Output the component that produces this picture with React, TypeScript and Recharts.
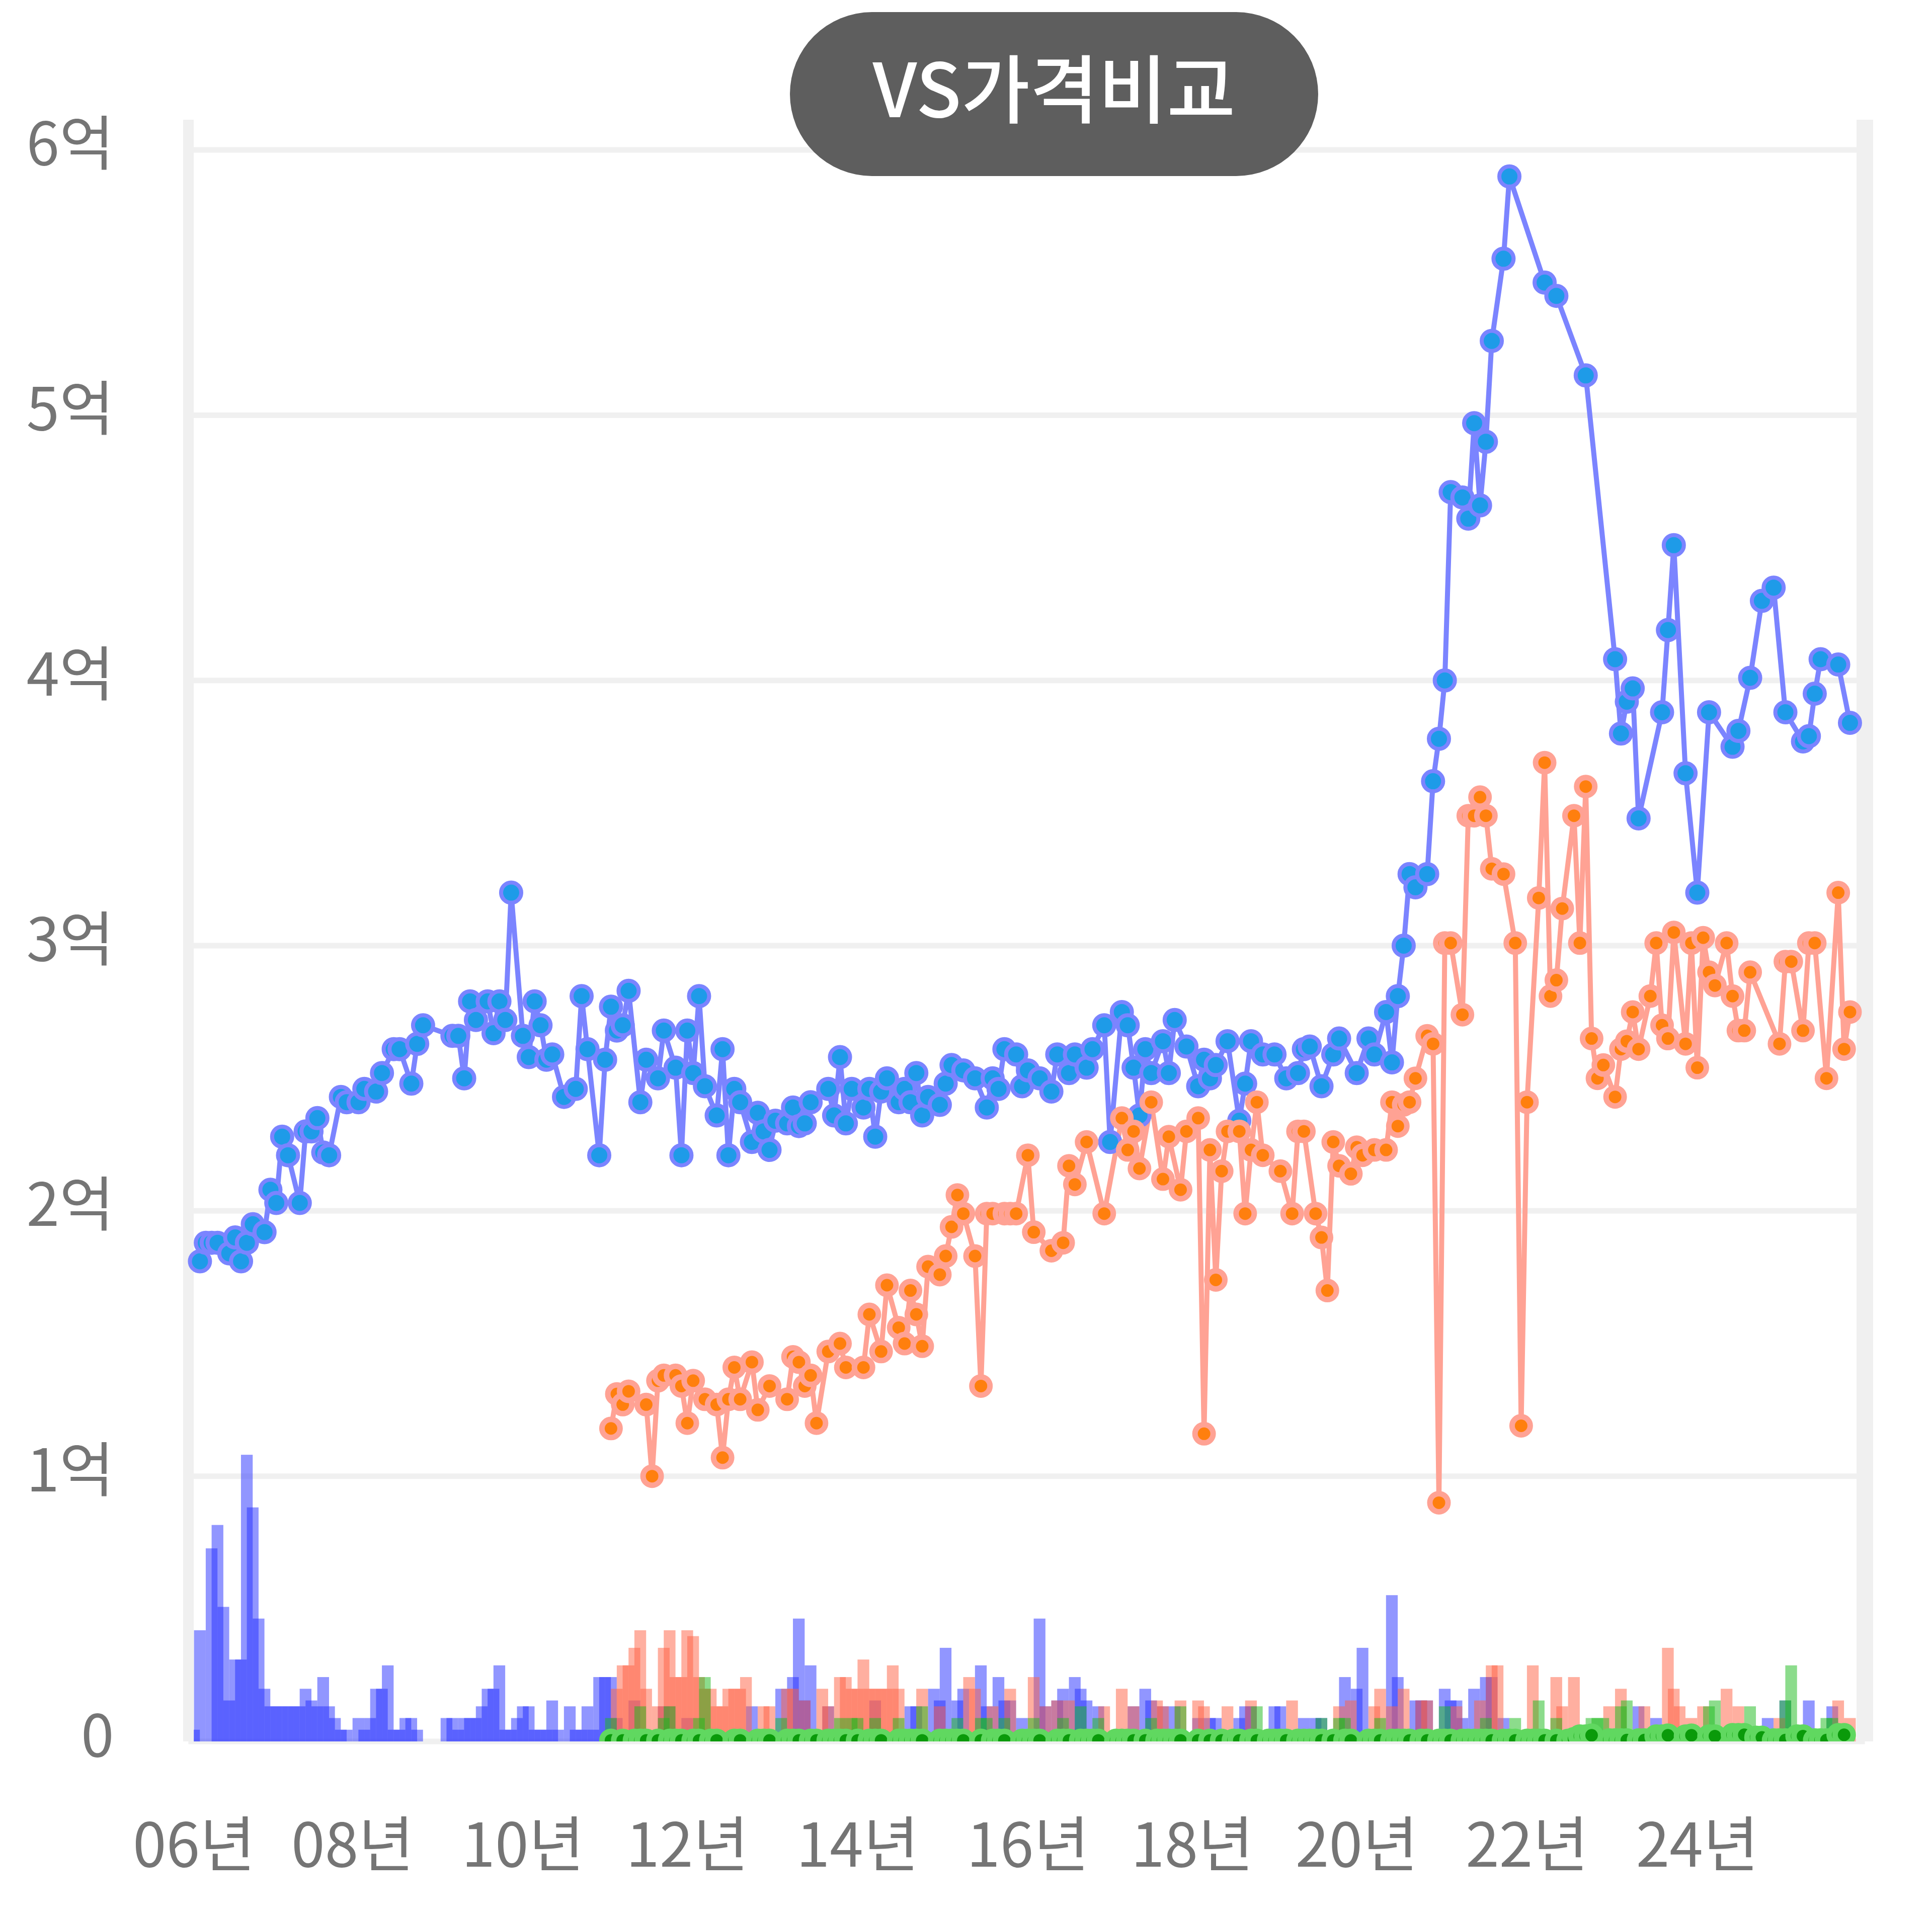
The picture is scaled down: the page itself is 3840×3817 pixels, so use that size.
import { Bar, CartesianGrid, ComposedChart, Line, XAxis, YAxis } from "recharts";

const FONT = '"Noto Sans CJK KR", "Noto Sans", sans-serif';
const POINT_COUNT = 283;

/* tick labels */
const yearTicks = [0, 27, 56, 84, 113, 142, 170, 198, 227, 256];
const yearLabels = ["06년", "08년", "10년", "12년", "14년", "16년", "18년", "20년", "22년", "24년"];
const priceTicks = [0, 1, 2, 3, 4, 5, 6];

/* [point index, 억] */
const salePrice = [
  [1,1.81],[2,1.88],[3,1.88],[4,1.88],[6,1.84],[7,1.90],[8,1.81],[9,1.88],[10,1.95],[12,1.92],[13,2.08],[14,2.03],[15,2.28],[16,2.21],[18,2.03],[19,2.30],[20,2.30],[21,2.35],[22,2.22],[23,2.21],[25,2.43],[26,2.41],[28,2.41],[29,2.46],[31,2.45],[32,2.52],[34,2.61],[35,2.61],[37,2.48],[38,2.63],[39,2.70],[44,2.66],[45,2.66],[46,2.50],[47,2.79],[48,2.72],[50,2.79],[51,2.67],[52,2.79],[53,2.72],[54,3.20],[56,2.66],[57,2.58],[58,2.79],[59,2.70],[60,2.57],[61,2.59],[63,2.43],[65,2.46],[66,2.81],[67,2.61],[69,2.21],[70,2.57],[71,2.77],[72,2.68],[73,2.70],[74,2.83],[76,2.41],[77,2.57],[79,2.50],[80,2.68],[82,2.54],[83,2.21],[84,2.68],[85,2.52],[86,2.81],[87,2.47],[89,2.36],[90,2.61],[91,2.21],[92,2.46],[93,2.41],[95,2.26],[96,2.37],[97,2.30],[98,2.23],[99,2.34],[101,2.33],[102,2.39],[103,2.32],[104,2.33],[105,2.41],[108,2.46],[109,2.36],[110,2.58],[111,2.33],[112,2.46],[114,2.39],[115,2.46],[116,2.28],[117,2.45],[118,2.50],[120,2.41],[121,2.46],[122,2.41],[123,2.52],[124,2.36],[125,2.43],[127,2.40],[128,2.48],[129,2.55],[131,2.53],[133,2.50],[135,2.39],[136,2.50],[137,2.46],[138,2.61],[140,2.59],[141,2.47],[142,2.53],[144,2.50],[146,2.45],[147,2.59],[149,2.52],[150,2.59],[152,2.54],[153,2.61],[155,2.70],[156,2.26],[158,2.75],[159,2.70],[160,2.54],[161,2.36],[162,2.61],[163,2.52],[165,2.64],[166,2.52],[167,2.72],[169,2.62],[171,2.47],[172,2.57],[173,2.50],[174,2.55],[176,2.64],[178,2.34],[179,2.48],[180,2.64],[182,2.59],[184,2.59],[186,2.50],[188,2.52],[189,2.61],[190,2.62],[192,2.47],[194,2.59],[195,2.65],[198,2.52],[200,2.65],[201,2.59],[203,2.75],[204,2.56],[205,2.81],[206,3.00],[207,3.27],[208,3.22],[210,3.27],[211,3.62],[212,3.78],[213,4.00],[214,4.71],[216,4.69],[217,4.61],[218,4.97],[219,4.66],[220,4.90],[221,5.28],[223,5.59],[224,5.90],[230,5.50],[232,5.45],[237,5.15],[242,4.08],[243,3.80],[244,3.92],[245,3.97],[246,3.48],[250,3.88],[251,4.19],[252,4.51],[254,3.65],[256,3.20],[258,3.88],[262,3.75],[263,3.81],[265,4.01],[267,4.30],[269,4.35],[271,3.88],[274,3.77],[275,3.79],[276,3.95],[277,4.08],[280,4.06],[282,3.84],
];

const leasePrice = [
  [71,1.18],[72,1.31],[73,1.27],[74,1.32],[77,1.27],[78,1.00],[79,1.36],[80,1.38],[82,1.38],[83,1.34],[84,1.20],[85,1.36],[87,1.29],[89,1.27],[90,1.07],[91,1.29],[92,1.41],[93,1.29],[95,1.43],[96,1.25],[98,1.34],[101,1.29],[102,1.45],[103,1.43],[104,1.34],[105,1.38],[106,1.20],[108,1.47],[110,1.50],[111,1.41],[114,1.41],[115,1.61],[117,1.47],[118,1.72],[120,1.56],[121,1.50],[122,1.70],[123,1.61],[124,1.49],[125,1.79],[127,1.76],[128,1.83],[129,1.94],[130,2.06],[131,1.99],[133,1.83],[134,1.34],[135,1.99],[136,1.99],[138,1.99],[139,1.99],[140,1.99],[142,2.21],[143,1.92],[146,1.85],[148,1.88],[149,2.17],[150,2.10],[152,2.26],[155,1.99],[158,2.35],[159,2.23],[160,2.30],[161,2.16],[163,2.41],[165,2.12],[166,2.28],[168,2.08],[169,2.30],[171,2.35],[172,1.16],[173,2.23],[174,1.74],[175,2.15],[176,2.30],[178,2.30],[179,1.99],[180,2.23],[181,2.41],[182,2.21],[185,2.15],[187,1.99],[188,2.30],[189,2.30],[191,1.99],[192,1.90],[193,1.70],[194,2.26],[195,2.17],[197,2.14],[198,2.24],[199,2.21],[201,2.23],[203,2.23],[204,2.41],[205,2.32],[206,2.40],[207,2.41],[208,2.50],[210,2.66],[211,2.63],[212,0.90],[213,3.01],[214,3.01],[216,2.74],[217,3.49],[218,3.49],[219,3.56],[220,3.49],[221,3.29],[223,3.27],[225,3.01],[226,1.19],[227,2.41],[229,3.18],[230,3.69],[231,2.81],[232,2.87],[233,3.14],[235,3.49],[236,3.01],[237,3.60],[238,2.65],[239,2.50],[240,2.55],[242,2.43],[243,2.61],[244,2.64],[245,2.75],[246,2.61],[248,2.81],[249,3.01],[250,2.70],[251,2.65],[252,3.05],[254,2.63],[255,3.01],[256,2.54],[257,3.03],[258,2.90],[259,2.85],[261,3.01],[262,2.81],[263,2.68],[264,2.68],[265,2.90],[270,2.63],[271,2.94],[272,2.94],[274,2.68],[275,3.01],[276,3.01],[278,2.50],[280,3.20],[281,2.61],[282,2.75],
];

const rentPrice = [
  [71,0.004],[73,0.004],[75,0.004],[76,0.004],[77,0.004],[79,0.004],[81,0.004],[82,0.004],[83,0.004],[85,0.004],[86,0.004],[88,0.004],[89,0.004],[92,0.004],[93,0.004],[96,0.004],[97,0.004],[98,0.004],[101,0.004],[102,0.004],[103,0.004],[105,0.004],[106,0.004],[108,0.004],[109,0.004],[110,0.004],[111,0.004],[113,0.004],[115,0.004],[116,0.004],[117,0.004],[120,0.004],[121,0.004],[122,0.004],[123,0.004],[124,0.004],[127,0.004],[128,0.004],[129,0.004],[130,0.004],[131,0.004],[134,0.004],[136,0.004],[137,0.004],[138,0.004],[141,0.004],[142,0.004],[143,0.004],[144,0.004],[147,0.004],[148,0.004],[149,0.004],[151,0.004],[152,0.004],[153,0.004],[154,0.004],[157,0.004],[158,0.004],[159,0.004],[160,0.004],[162,0.004],[164,0.004],[165,0.004],[166,0.004],[167,0.004],[168,0.004],[171,0.004],[173,0.004],[175,0.004],[177,0.004],[178,0.004],[180,0.004],[181,0.004],[183,0.004],[184,0.004],[185,0.004],[186,0.004],[188,0.004],[189,0.004],[190,0.004],[191,0.004],[192,0.004],[194,0.004],[196,0.004],[197,0.004],[200,0.004],[201,0.004],[202,0.004],[204,0.004],[205,0.004],[206,0.004],[207,0.004],[209,0.004],[210,0.004],[212,0.004],[213,0.004],[214,0.004],[216,0.004],[217,0.004],[218,0.004],[219,0.004],[220,0.004],[221,0.004],[223,0.004],[224,0.004],[225,0.004],[227,0.004],[228,0.004],[229,0.004],[230,0.004],[232,0.004],[234,0.004],[235,0.01],[236,0.02],[237,0.02],[238,0.023],[241,0.005],[242,0.005],[243,0.005],[244,0.005],[246,0.005],[247,0.005],[249,0.02],[250,0.02],[251,0.023],[254,0.02],[255,0.023],[258,0.02],[259,0.02],[262,0.025],[263,0.025],[264,0.025],[266,0.015],[267,0.015],[269,0.005],[270,0.005],[271,0.005],[273,0.02],[274,0.02],[276,0.005],[277,0.005],[278,0.005],[280,0.025],[281,0.025],
];

/* [point index, 거래량] */
const saleVolume = [
  [0,2],[1,19],[3,33],[4,37],[5,23],[6,7],[7,14],[8,14],[9,49],[10,40],[11,21],[12,9],[13,6],[14,6],[15,6],[16,6],[17,6],[18,6],[19,9],[20,7],[21,6],[22,11],[23,6],[24,4],[25,2],[26,2],[28,4],[29,2],[30,4],[31,9],[32,9],[33,13],[34,2],[35,2],[36,4],[37,4],[38,2],[43,4],[44,4],[45,2],[46,4],[47,4],[48,4],[49,6],[50,9],[51,9],[52,13],[53,2],[54,2],[55,4],[56,6],[57,6],[58,2],[59,2],[60,2],[61,7],[62,2],[64,6],[65,2],[66,2],[67,6],[68,2],[69,11],[70,11],[71,11],[72,4],[75,7],[80,6],[81,6],[84,4],[95,6],[100,9],[102,11],[103,21],[104,7],[105,13],[108,6],[116,7],[122,6],[123,6],[126,9],[127,7],[128,16],[130,7],[131,9],[134,13],[135,6],[137,11],[138,7],[139,7],[141,4],[144,21],[145,6],[147,7],[148,9],[150,11],[151,9],[152,7],[154,6],[160,6],[162,9],[163,7],[165,6],[167,6],[171,4],[173,4],[174,4],[178,4],[179,6],[180,6],[184,6],[185,6],[189,4],[191,4],[192,4],[196,11],[198,9],[199,16],[204,25],[205,11],[208,7],[209,7],[210,7],[213,9],[214,7],[215,7],[216,4],[218,9],[220,11],[221,11],[223,4],[246,6],[249,4],[268,4],[271,7],[275,7],[279,6],
];

const leaseVolume = [
  [72,9],[73,13],[74,13],[75,16],[76,19],[77,9],[79,6],[80,16],[81,19],[82,11],[83,11],[84,19],[85,18],[86,11],[87,9],[88,9],[89,6],[90,6],[91,9],[92,9],[93,9],[94,11],[97,6],[98,6],[101,9],[102,9],[104,7],[107,9],[108,6],[110,11],[111,11],[112,9],[113,9],[114,14],[115,9],[116,9],[117,9],[118,9],[119,13],[120,9],[124,9],[127,6],[132,11],[133,9],[136,6],[139,9],[143,11],[145,6],[147,7],[149,7],[155,6],[158,9],[160,6],[164,7],[165,6],[168,7],[171,7],[172,6],[176,6],[180,7],[187,7],[195,6],[197,7],[201,6],[202,9],[204,6],[206,9],[209,7],[210,7],[215,6],[219,7],[221,13],[222,13],[227,2],[228,13],[232,11],[233,6],[235,11],[241,6],[243,9],[247,6],[251,16],[252,9],[253,6],[255,4],[257,6],[261,9],[263,6],[270,4],[280,7],[282,4],
];

const rentVolume = [
  [71,4],[76,6],[80,4],[81,6],[86,4],[87,11],[100,4],[110,4],[112,4],[113,4],[116,4],[120,4],[124,6],[130,4],[134,4],[135,4],[138,4],[143,4],[148,4],[151,6],[154,4],[163,4],[168,6],[181,6],[192,4],[195,4],[196,4],[202,4],[213,6],[220,4],[225,4],[229,7],[232,4],[238,4],[239,4],[240,4],[243,6],[244,7],[258,6],[259,7],[265,6],[271,7],[272,13],[278,4],[279,4],
];

const rows: Record<string, number>[] = Array.from({ length: POINT_COUNT }, (_, idx) => ({ idx }));
const addSeries = (key: string, pairs: number[][]) => {
  pairs.forEach(([i, v]) => {
    rows[i][key] = v;
  });
};
addSeries("sale", salePrice);
addSeries("lease", leasePrice);
addSeries("rent", rentPrice);
addSeries("saleVol", saleVolume);
addSeries("leaseVol", leaseVolume);
addSeries("rentVol", rentVolume);

const GRAY = "#f0f0f0";
const xPadding = { left: 5.4, right: 23.7 };
const yearLabel = (v: number) => yearLabels[yearTicks.indexOf(v)] ?? "";

// recharts caps barSize at the band width, these bars overlap their neighbours
const BAR_WIDTH = 23.3;
const WideBar = (props: any) => {
  const { x, y, width, height, fill, fillOpacity } = props;
  if (!height) return null;
  return <rect x={x + width / 2 - BAR_WIDTH / 2} y={y} width={BAR_WIDTH} height={height} fill={fill} fillOpacity={fillOpacity} />;
};

export default function App() {
  return (
    <div style={{ position: "absolute", left: 0, top: 0, width: 3840, height: 3817, background: "#fff", fontFamily: FONT }}>
      <ComposedChart
        width={3840}
        height={3817}
        data={rows}
        margin={{ top: 238, right: 0, bottom: 0, left: 0 }}
      >
        <CartesianGrid vertical={false} stroke={GRAY} strokeWidth={11} yAxisId="price" syncWithTicks />
        <XAxis
          xAxisId="sale"
          dataKey="idx"
          height={355}
          padding={xPadding}
          ticks={yearTicks}
          interval={0}
          tickFormatter={yearLabel}
          axisLine={false}
          tickLine={false}
          tickMargin={98}
          tick={{ fill: "#757575", fontSize: 120, fontFamily: FONT }}
        />
        <XAxis xAxisId="lease" dataKey="idx" hide padding={xPadding} />
        <XAxis xAxisId="rent" dataKey="idx" hide padding={xPadding} />
        <YAxis
          yAxisId="price"
          width={374.5}
          domain={[0, 6.114]}
          ticks={priceTicks}
          interval={0}
          allowDataOverflow
          tickFormatter={(v) => (v === 0 ? "0" : `${v}억`)}
          axisLine={{ stroke: GRAY, strokeWidth: 21 }}
          tickLine={false}
          tickMargin={142}
          tick={{ fill: "#757575", fontSize: 118, fontFamily: FONT, dy: -12 }}
        />
        <YAxis
          yAxisId="volume"
          orientation="right"
          width={133.5}
          domain={[0, 277.2]}
          tick={false}
          tickLine={false}
          axisLine={{ stroke: GRAY, strokeWidth: 33 }}
        />

        <Bar xAxisId="sale" yAxisId="volume" dataKey="saleVol" shape={WideBar} fill="rgb(35,45,255)" fillOpacity={0.5} isAnimationActive={false} />
        <Bar xAxisId="lease" yAxisId="volume" dataKey="leaseVol" shape={WideBar} fill="rgb(255,95,65)" fillOpacity={0.5} isAnimationActive={false} />
        <Bar xAxisId="rent" yAxisId="volume" dataKey="rentVol" shape={WideBar} fill="rgb(25,185,25)" fillOpacity={0.5} isAnimationActive={false} />

        <Line
          xAxisId="sale"
          yAxisId="price"
          dataKey="sale"
          connectNulls
          stroke="#7b84ff"
          strokeWidth={10}
          dot={{ r: 20, fill: "#1e9be8", stroke: "#7b84ff", strokeWidth: 8 }}
          activeDot={false}
          isAnimationActive={false}
        />
        <Line
          xAxisId="sale"
          yAxisId="price"
          dataKey="lease"
          connectNulls
          stroke="#ffa294"
          strokeWidth={10}
          dot={{ r: 18, fill: "#ff7f0e", stroke: "#ffa294", strokeWidth: 11 }}
          activeDot={false}
          isAnimationActive={false}
        />
        <Line
          xAxisId="sale"
          yAxisId="price"
          dataKey="rent"
          connectNulls
          stroke="#60d860"
          strokeWidth={10}
          dot={{ r: 18, fill: "#0a9a0a", stroke: "#60d860", strokeWidth: 11 }}
          activeDot={false}
          isAnimationActive={false}
        />
      </ComposedChart>

      <div
        style={{
          position: "absolute",
          left: 1570,
          top: 24,
          width: 1050,
          height: 326,
          borderRadius: 163,
          background: "#5e5e5e",
          color: "#fff",
          fontSize: 148,
          fontWeight: 500,
          lineHeight: "290px",
          textAlign: "center",
          whiteSpace: "nowrap",
        }}
      >
        VS가격비교
      </div>
    </div>
  );
}
